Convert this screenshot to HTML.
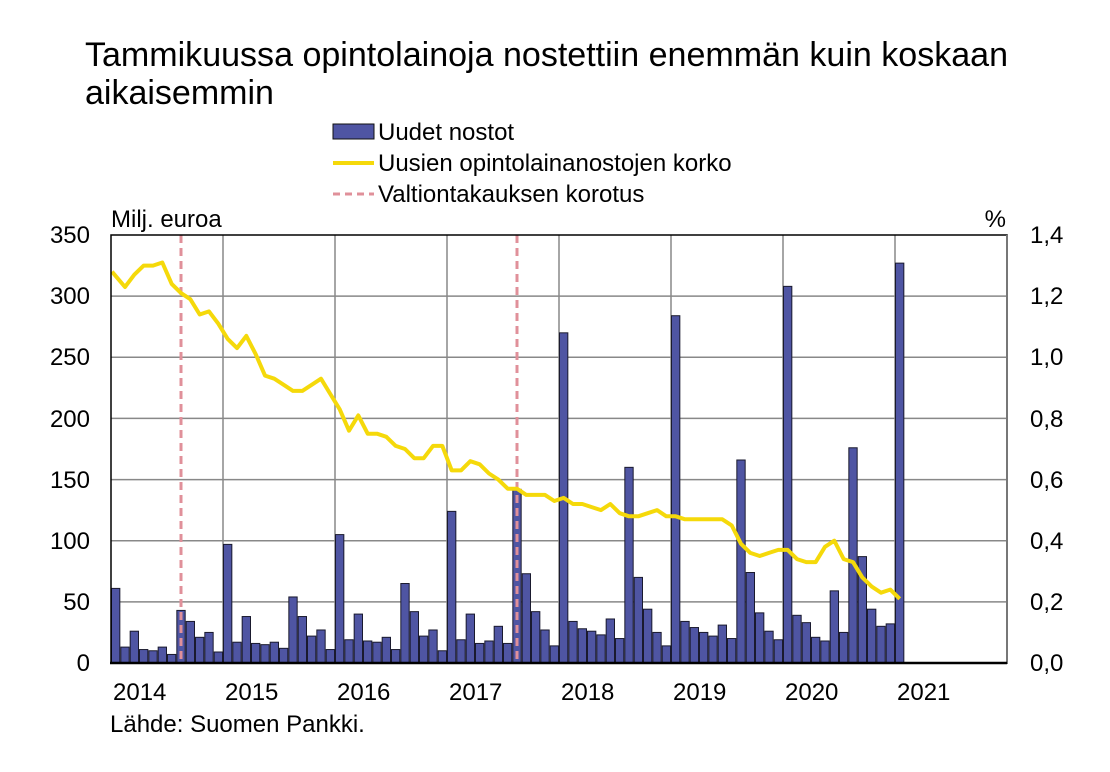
<!DOCTYPE html>
<html><head><meta charset="utf-8"><style>
html,body{margin:0;padding:0;background:#fff;}
svg{display:block;font-family:"Liberation Sans",Arial,sans-serif;}
</style></head><body>
<svg id="c" width="1110" height="772" viewBox="0 0 1110 772" xmlns="http://www.w3.org/2000/svg">
<rect width="1110" height="772" fill="#fff"/>
<text x="85" y="66" font-size="34" fill="#000" textLength="923" lengthAdjust="spacingAndGlyphs">Tammikuussa opintolainoja nostettiin enemmän kuin koskaan</text>
<text x="85" y="104" font-size="34" fill="#000">aikaisemmin</text>
<rect x="333" y="124" width="41" height="15" fill="#4f55a3" stroke="#111" stroke-width="1"/>
<text x="378" y="140" font-size="24">Uudet nostot</text>
<line x1="333" y1="163" x2="374" y2="163" stroke="#f5d90a" stroke-width="4"/>
<text x="378" y="171" font-size="24">Uusien opintolainanostojen korko</text>
<line x1="333" y1="194" x2="374" y2="194" stroke="#e0909a" stroke-width="3" stroke-dasharray="7,5"/>
<text x="378" y="202" font-size="24">Valtiontakauksen korotus</text>
<text x="111" y="227" font-size="24">Milj. euroa</text>
<text x="1006" y="227" font-size="24" text-anchor="end">%</text>
<g id="grid"></g>
<g id="bars"></g>
<g id="dash"></g>
<polyline id="line" fill="none" stroke="#f5d90a" stroke-width="4" stroke-linejoin="round"/>
<rect x="111" y="235" width="896" height="428" fill="none" stroke="#000" stroke-width="1.5"/>
<line x1="1007" y1="235" x2="1007" y2="663" stroke="#777" stroke-width="2"/>
<line x1="110" y1="663" x2="1007" y2="663" stroke="#000" stroke-width="2.5"/>
<g font-size="24" text-anchor="end">
<text x="90" y="243">350</text><text x="90" y="304">300</text><text x="90" y="365">250</text>
<text x="90" y="427">200</text><text x="90" y="488">150</text><text x="90" y="549">100</text>
<text x="90" y="610">50</text><text x="90" y="671">0</text>
</g>
<g font-size="24">
<text x="1030" y="243">1,4</text><text x="1030" y="304">1,2</text><text x="1030" y="365">1,0</text>
<text x="1030" y="427">0,8</text><text x="1030" y="488">0,6</text><text x="1030" y="549">0,4</text>
<text x="1030" y="610">0,2</text><text x="1030" y="671">0,0</text>
</g>
<g font-size="24">
<text x="113" y="700">2014</text><text x="225" y="700">2015</text><text x="337" y="700">2016</text>
<text x="449" y="700">2017</text><text x="561" y="700">2018</text><text x="673" y="700">2019</text>
<text x="785" y="700">2020</text><text x="897" y="700">2021</text>
</g>
<text x="110" y="732" font-size="24">Lähde: Suomen Pankki.</text>
</svg>
<script>
var NS="http://www.w3.org/2000/svg";
function el(t,a,p){var e=document.createElementNS(NS,t);for(var k in a)e.setAttribute(k,a[k]);document.getElementById(p).appendChild(e);return e;}
var X0=111,M=896/96,Y0=663,S=428/350;
for(var v=50;v<350;v+=50){var y=Y0-v*S;el("line",{x1:X0,x2:1007,y1:y,y2:y,stroke:"#888","stroke-width":1.5},"grid");}
for(var i=1;i<8;i++){var x=X0+i*112;el("line",{x1:x,x2:x,y1:235,y2:663,stroke:"#888","stroke-width":1.5},"grid");}
var b=[61,13,26,11,10,13,7,43,34,21,25,9,
97,17,38,16,15,17,12,54,38,22,27,11,
105,19,40,18,17,21,11,65,42,22,27,10,
124,19,40,16,18,30,16,142,73,42,27,14,
270,34,28,26,23,36,20,160,70,44,25,14,
284,34,29,25,22,31,20,166,74,41,26,19,
308,39,33,21,18,59,25,176,87,44,30,32,
327];
for(var i=0;i<b.length;i++){var h=b[i]*S;el("rect",{x:X0+i*M+0.5,y:Y0-h,width:M-1,height:h,fill:"#4f55a3",stroke:"#1a1a2e","stroke-width":1},"bars");}
[7,43].forEach(function(i){var x=X0+i*M+M/2;el("line",{x1:x,x2:x,y1:235,y2:663,stroke:"#e0909a","stroke-width":3,"stroke-dasharray":"8,5"},"dash");});
var r=[1.28,1.23,1.27,1.30,1.30,1.31,1.24,1.21,1.19,1.14,1.15,1.11,
1.06,1.03,1.07,1.01,0.94,0.93,0.91,0.89,0.89,0.91,0.93,0.88,
0.83,0.76,0.81,0.75,0.75,0.74,0.71,0.70,0.67,0.67,0.71,0.71,
0.63,0.63,0.66,0.65,0.62,0.60,0.57,0.57,0.55,0.55,0.55,0.53,
0.54,0.52,0.52,0.51,0.50,0.52,0.49,0.48,0.48,0.49,0.50,0.48,
0.48,0.47,0.47,0.47,0.47,0.47,0.45,0.39,0.36,0.35,0.36,0.37,
0.37,0.34,0.33,0.33,0.38,0.40,0.34,0.33,0.28,0.25,0.23,0.24,0.21];
var pts=[];for(var i=0;i<r.length;i++){var x=(i==0)?X0+1:X0+i*M+M/2;pts.push(x.toFixed(1)+","+(Y0-r[i]*428/1.4).toFixed(1));}
document.getElementById("line").setAttribute("points",pts.join(" "));
</script>
</body></html>
